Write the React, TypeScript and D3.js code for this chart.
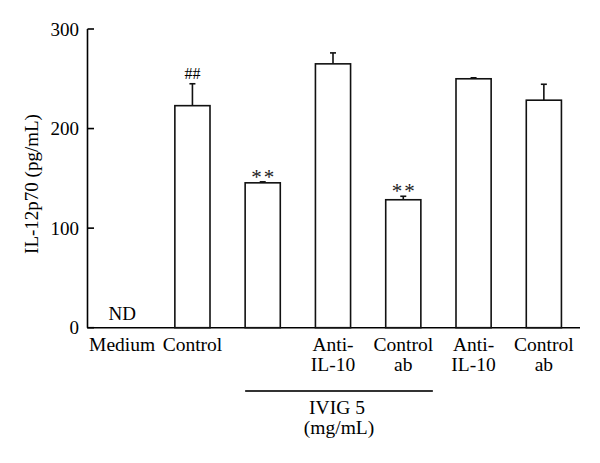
import React from "react";
import * as d3 from "d3";

const categories = ["Medium", "Control", "IVIG", "IVIG+Anti-IL-10", "IVIG+Control ab", "Anti-IL-10", "Control ab"];
const labelLines: string[][] = [["Medium"], ["Control"], [], ["Anti-", "IL-10"], ["Control", "ab"], ["Anti-", "IL-10"], ["Control", "ab"]];
const values: (number | null)[] = [null, 223, 145.5, 265, 128.5, 250, 228.5];
const errors: number[] = [0, 22, 1, 11, 3.5, 1, 16];
const marks: string[] = ["", "##", "**", "", "**", "", ""];
const yTicks = [0, 100, 200, 300];

const W = 600, H = 463;
const FONT = "'Liberation Serif', 'Times New Roman', serif";

export default function App() {
  const x = d3.scaleBand<string>().domain(categories).range([87, 579]).paddingInner(0.5).paddingOuter(0.25);
  const y = d3.scaleLinear().domain([0, 300]).range([327.7, 29]);
  const bw = x.bandwidth();
  const groupStart = x(categories[2])!;
  const groupEnd = x(categories[4])! + bw + 12;
  const groupMid = (groupStart + groupEnd) / 2;
  return (
    <svg width={W} height={H} style={{ position: "absolute", left: 0, top: 0, background: "#fff" }} fontFamily={FONT}>
      {/* y axis label */}
      <text transform={`translate(38,184) rotate(-90)`} textAnchor="middle" fontSize={19}>IL-12p70 (pg/mL)</text>
      {/* axes */}
      <line x1={87.5} x2={87.5} y1={y(300)} y2={y(0)} stroke="#000" strokeWidth={1.6} />
      <line x1={87} x2={580} y1={y(0)} y2={y(0)} stroke="#000" strokeWidth={1.6} />
      {yTicks.map((t) => (
        <g key={t}>
          <line x1={87.5} x2={94} y1={y(t)} y2={y(t)} stroke="#000" strokeWidth={1.6} />
          <text x={79} y={y(t)} dy="0.35em" textAnchor="end" fontSize={19}>{t}</text>
        </g>
      ))}
      {/* bars */}
      {categories.map((c, i) => {
        const v = values[i];
        const cx = x(c)! + bw / 2;
        return (
          <g key={c}>
            {v !== null && (
              <>
                <line x1={cx} x2={cx} y1={y(v)} y2={y(v + errors[i])} stroke="#111" strokeWidth={1.6} />
                <line x1={cx - 3} x2={cx + 3} y1={y(v + errors[i])} y2={y(v + errors[i])} stroke="#111" strokeWidth={1.6} />
                <rect x={x(c)} y={y(v)} width={bw} height={y(0) - y(v)} fill="#fff" stroke="#111" strokeWidth={1.6} />
              </>
            )}
            {v === null && (
              <text x={cx} y={320} textAnchor="middle" fontSize={19}>ND</text>
            )}
            {marks[i] === "##" && v !== null && (
              <text x={cx} y={y(v + errors[i]) - 5} textAnchor="middle" fontSize={16}>##</text>
            )}
            {marks[i] === "**" && v !== null && (
              <text x={cx + 1} y={y(v + errors[i]) + 2} textAnchor="middle" fontSize={21} letterSpacing={2} fill="#222">**</text>
            )}
            {labelLines[i].map((l, j) => (
              <text key={j} x={cx} y={351 + j * 20} textAnchor="middle" fontSize={19.5}>{l}</text>
            ))}
          </g>
        );
      })}
      {/* group bracket */}
      <line x1={groupStart - 0} x2={groupEnd} y1={391} y2={391} stroke="#333" strokeWidth={2} />
      <text x={groupMid - 2} y={414} textAnchor="middle" fontSize={19.5}>IVIG 5</text>
      <text x={groupMid} y={434} textAnchor="middle" fontSize={19.5}>(mg/mL)</text>
    </svg>
  );
}
